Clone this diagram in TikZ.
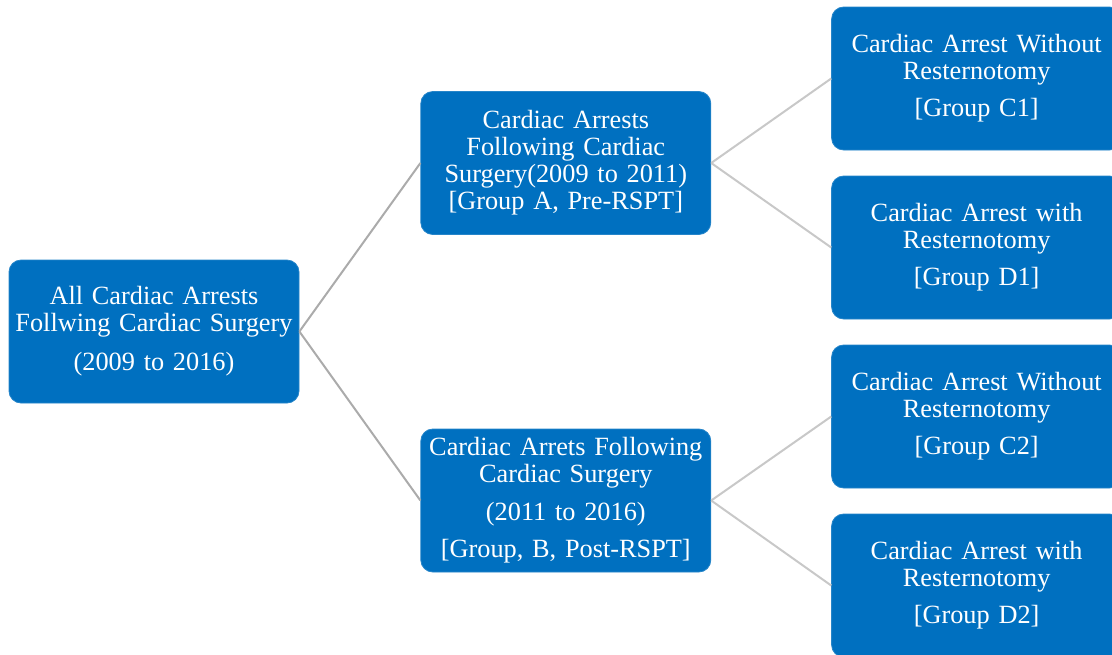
\documentclass[tikz,border=0pt]{standalone}
\usepackage{fontspec}
\setmainfont{Liberation Serif}
\usetikzlibrary{positioning}
\definecolor{boxblue}{HTML}{0070C0}
\definecolor{rootline}{HTML}{ABABAB}
\definecolor{leafline}{HTML}{C8C8C8}
\tikzset{
  gbox/.style={rectangle, rounded corners=6pt, draw=boxblue!85!white, fill=boxblue,
               line width=0.4pt, minimum width=145pt, minimum height=71.5pt,
               inner sep=2pt, text width=140pt, align=center, text=white},
  conn/.style={line width=1pt, draw=#1},
  conn/.default=leafline,
}

\begin{document}
\begin{tikzpicture}[every node/.style={font=\fontsize{13.15}{13.5}\selectfont}]
  \useasboundingbox (0,0) rectangle (556pt,-327pt);
  \node[gbox] (root) at (77pt,-165.75pt)
    {All Cardiac Arrests\\Follwing Cardiac Surgery\\[6pt](2009 to 2016)};
  \node[gbox, right=60.5pt of root, yshift=84.25pt] (grpA)
    {Cardiac Arrests\\Following Cardiac\\Surgery(2009 to 2011)\\{}[Group A, Pre-RSPT]};
  \node[gbox, right=60.5pt of root, yshift=-84.5pt] (grpB)
    {Cardiac Arrets Following\\Cardiac Surgery\\[5.5pt](2011 to 2016)\\[5pt]{}[Group, B, Post-RSPT]};
  \node[gbox, right=60pt of grpA, yshift=42.25pt] (grpC1)
    {Cardiac Arrest Without\\Resternotomy\\[5pt]{}[Group C1]};
  \node[gbox, right=60pt of grpA, yshift=-42.25pt] (grpD1)
    {Cardiac Arrest with\\Resternotomy\\[5pt]{}[Group D1]};
  \node[gbox, right=60pt of grpB, yshift=42pt] (grpC2)
    {Cardiac Arrest Without\\Resternotomy\\[5pt]{}[Group C2]};
  \node[gbox, right=60pt of grpB, yshift=-42.5pt] (grpD2)
    {Cardiac Arrest with\\Resternotomy\\[5pt]{}[Group D2]};

  \draw[conn=rootline] (root.east) -- (grpA.west);
  \draw[conn=rootline] (root.east) -- (grpB.west);
  \draw[conn] (grpA.east) -- (grpC1.west);
  \draw[conn] (grpA.east) -- (grpD1.west);
  \draw[conn] (grpB.east) -- (grpC2.west);
  \draw[conn] (grpB.east) -- (grpD2.west);
\end{tikzpicture}
\end{document}
